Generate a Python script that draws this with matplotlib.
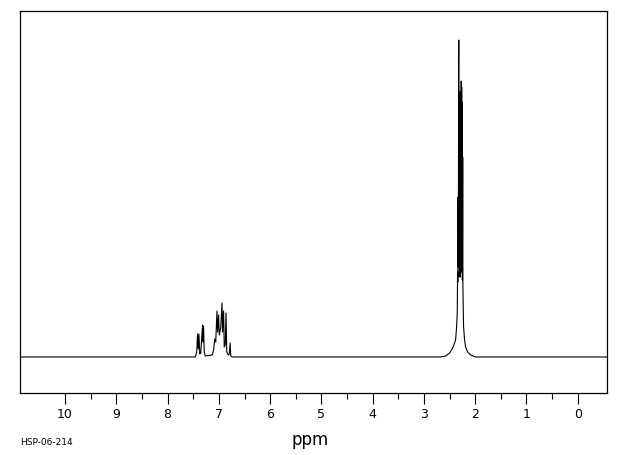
import matplotlib
matplotlib.use("Agg")
import matplotlib.pyplot as plt
from matplotlib.ticker import FixedLocator

# traced spectrum outline: chemical shift (ppm) and intensity (baseline = 0)
ppm = [10.87, 7.60,
       7.461, 7.432, 7.416, 7.402, 7.389, 7.373, 7.354, 7.334, 7.318, 7.309,
       7.299, 7.285, 7.266, 7.129, 7.100, 7.080, 7.061, 7.037, 7.025, 7.006,
       6.992, 6.963, 6.939, 6.928, 6.908, 6.895, 6.875, 6.861, 6.846, 6.826,
       6.811, 6.797, 6.781, 6.768, 6.738,
       2.676, 2.578, 2.500, 2.461, 2.422, 2.383, 2.363, 2.350, 2.344, 2.340,
       2.334, 2.330, 2.324, 2.321, 2.318, 2.313, 2.309, 2.303, 2.299, 2.293,
       2.289, 2.283, 2.279, 2.273, 2.270, 2.264, 2.260, 2.254, 2.250, 2.244,
       2.240, 2.234, 2.227, 2.207, 2.188, 2.148, 2.090, 1.992, -0.57]
intensity = [0, 0,
             0, 5, 23, 8, 23, 3, 4, 20, 32, 15,
             31, 5, 1, 2, 8, 18, 15, 46, 25, 42,
             22, 30, 54, 25, 46, 10, 12, 44, 5, 3,
             2, 3, 14, 1, 0,
             0, 1, 4, 7, 11, 17, 30, 45, 85, 75,
             160, 90, 250, 317, 100, 262, 80, 265, 82, 262,
             80, 265, 85, 276, 90, 270, 85, 255, 77, 200,
             70, 50, 30, 17, 10, 5, 2, 0, 0]

ticks_major = list(range(0, 11))
ticks_minor = [t + 0.5 for t in range(0, 10)]
code_label = "HSP-06-214"

fig = plt.figure(figsize=(6.2, 4.55), dpi=100)
ax = fig.add_axes([0.033, 0.1363, 0.946, 0.8405])

ax.plot(ppm, intensity, color="black", linewidth=0.8)

ax.set_xlim(10.87, -0.57)
ax.set_ylim(-36, 346.5)

ax.set_xticks(ticks_major)
ax.set_xticklabels([str(t) for t in ticks_major], fontsize=9)
ax.xaxis.set_minor_locator(FixedLocator(ticks_minor))
ax.tick_params(axis="x", which="major", direction="out", length=8, width=0.8, pad=3)
ax.tick_params(axis="x", which="minor", direction="out", length=4, width=0.8)
ax.set_yticks([])

for spine in ax.spines.values():
    spine.set_linewidth(0.9)

fig.text(0.5, 0.033, "ppm", ha="center", va="center", fontsize=12)
fig.text(0.033, 0.027, code_label, ha="left", va="center", fontsize=6.5)

fig.savefig("out.png", dpi=100)
